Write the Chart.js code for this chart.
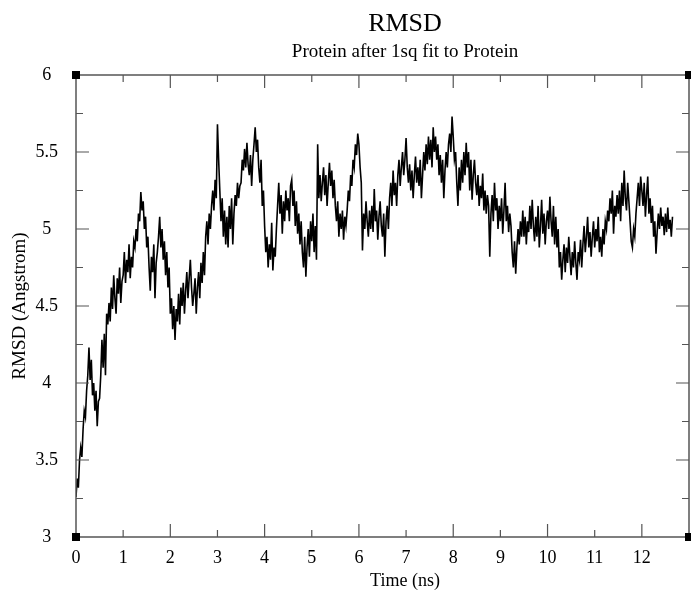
<!DOCTYPE html>
<html>
<head>
<meta charset="utf-8">
<script src="https://cdn.jsdelivr.net/npm/chart.js@4.4.1/dist/chart.umd.min.js"></script>
<style>
  html, body { margin: 0; padding: 0; background: #fff; }
</style>
</head>
<body>
<canvas id="rmsdChart" width="691" height="591"></canvas>
<script>
const titleText = "RMSD";
const subtitleText = "Protein after 1sq fit to Protein";
const xAxisTitle = "Time (ns)";
const yAxisTitle = "RMSD (Angstrom)";

// one value every 0.025 ns (10 values per row = 0.25 ns)
const frameStepNs = 0.025;
const rmsdValues = [
  3.26, 3.38, 3.32, 3.50, 3.58, 3.52, 3.70, 3.82, 3.78, 3.95,
  4.05, 4.23, 4.02, 4.15, 3.92, 4.00, 3.82, 3.95, 3.72, 3.88,
  3.90, 4.05, 4.28, 4.10, 4.32, 4.05, 4.45, 4.38, 4.52, 4.40,
  4.62, 4.48, 4.70, 4.55, 4.45, 4.68, 4.58, 4.75, 4.52, 4.66,
  4.70, 4.85, 4.65, 4.80, 4.72, 4.90, 4.68, 4.82, 4.75, 4.92,
  4.88, 5.00, 4.92, 5.10, 5.05, 5.24, 5.12, 5.18, 5.00, 5.08,
  4.88, 4.95, 4.75, 4.60, 4.82, 4.72, 4.90, 4.55, 4.78, 4.85,
  4.95, 5.08, 4.88, 5.00, 4.80, 4.92, 4.70, 4.85, 4.62, 4.75,
  4.45, 4.55, 4.35, 4.50, 4.28, 4.48, 4.40, 4.58, 4.38, 4.62,
  4.50, 4.65, 4.45, 4.60, 4.72, 4.55, 4.68, 4.80, 4.62, 4.50,
  4.58, 4.68, 4.45, 4.62, 4.72, 4.55, 4.78, 4.65, 4.85, 4.70,
  4.95, 5.05, 4.90, 5.10, 5.00, 5.15, 5.25, 5.12, 5.32, 5.20,
  5.68, 5.45, 5.25, 5.05, 5.20, 4.95, 5.12, 4.90, 5.08, 4.88,
  5.15, 5.00, 5.20, 4.90, 5.10, 5.22, 5.15, 5.30, 5.20, 5.28,
  5.30, 5.45, 5.38, 5.52, 5.40, 5.56, 5.42, 5.35, 5.48, 5.28,
  5.45, 5.55, 5.66, 5.50, 5.58, 5.40, 5.30, 5.45, 5.15, 5.25,
  5.02, 4.85, 4.95, 4.75, 4.90, 4.80, 5.04, 4.73, 4.88, 4.82,
  5.00, 5.15, 5.30, 5.10, 5.22, 4.97, 5.18, 5.05, 5.25, 5.12,
  5.20, 5.05, 5.28, 5.32, 5.15, 5.25, 5.02, 5.18, 4.97, 5.10,
  4.90, 5.05, 4.85, 4.75, 4.95, 4.69, 4.88, 5.00, 4.82, 5.05,
  4.92, 5.10, 4.85, 5.02, 4.80, 5.55, 5.20, 5.35, 5.18, 5.30,
  5.40, 5.22, 5.35, 5.15, 5.30, 5.43, 5.28, 5.38, 5.20, 5.32,
  5.15, 5.05, 5.18, 4.95, 5.10, 5.00, 5.12, 4.93, 5.08, 5.02,
  5.12, 5.25, 5.18, 5.35, 5.28, 5.45, 5.40, 5.55, 5.48, 5.62,
  5.55, 5.40, 5.30, 4.86, 5.10, 5.00, 5.18, 5.05, 4.95, 5.12,
  5.00, 5.15, 4.98, 5.26, 5.05, 5.12, 4.93, 5.08, 5.18, 5.02,
  4.95, 5.10, 4.82, 5.05, 5.15, 5.00, 5.20, 5.30, 5.15, 5.38,
  5.22, 5.30, 5.15, 5.35, 5.45, 5.28, 5.40, 5.50, 5.35, 5.45,
  5.59, 5.40, 5.30, 5.42, 5.25, 5.38, 5.20, 5.35, 5.47, 5.30,
  5.40, 5.28, 5.45, 5.20, 5.35, 5.50, 5.38, 5.55, 5.42, 5.60,
  5.45, 5.58, 5.40, 5.66, 5.50, 5.60, 5.45, 5.55, 5.35, 5.48,
  5.30, 5.45, 5.20, 5.38, 5.50, 5.40, 5.55, 5.62, 5.50, 5.73,
  5.60, 5.45, 5.50, 5.30, 5.15, 5.40, 5.25, 5.45, 5.30, 5.50,
  5.35, 5.56, 5.40, 5.50, 5.25, 5.45, 5.19, 5.35, 5.45, 5.30,
  5.22, 5.35, 5.15, 5.28, 5.20, 5.36, 5.12, 5.25, 5.10, 5.22,
  5.15, 4.82, 5.10, 5.22, 5.05, 5.30, 5.12, 5.20, 5.00, 5.15,
  5.05, 5.20, 4.97, 5.12, 5.30, 5.05, 5.15, 4.98, 5.10, 5.02,
  4.85, 4.75, 4.92, 4.71, 4.88, 5.00, 4.90, 5.05, 4.95, 5.12,
  4.95, 5.08, 4.90, 5.05, 4.98, 5.15, 5.00, 5.19, 5.02, 4.92,
  5.08, 4.95, 5.15, 4.88, 5.02, 5.19, 4.97, 5.10, 4.90, 5.05,
  5.12, 5.00, 5.21, 5.05, 4.95, 5.15, 4.90, 5.08, 4.88, 5.00,
  4.75, 4.85, 4.67, 4.80, 4.90, 4.72, 4.88, 4.78, 4.95, 4.82,
  4.70, 4.85, 4.75, 4.92, 4.78, 4.67, 4.85, 4.80, 4.93, 4.75,
  4.90, 5.02, 4.85, 4.95, 5.08, 4.88, 4.98, 4.82, 4.95, 5.05,
  4.88, 5.00, 4.92, 5.08, 4.85, 4.95, 4.82, 5.00, 4.90, 5.05,
  5.00, 5.12, 5.05, 5.20, 5.10, 5.25, 4.97, 5.15, 5.08, 5.22,
  5.10, 5.25, 5.05, 5.30, 5.15, 5.38, 5.20, 5.12, 5.30, 5.18,
  5.05, 4.92, 4.88, 5.00, 4.95, 5.10, 5.20, 5.30, 5.15, 5.34,
  5.25, 5.15, 5.30, 5.08, 5.22, 5.34, 5.10, 5.20, 5.04, 5.15,
  4.95, 5.05, 4.84, 4.98, 5.10, 5.00, 5.14, 5.02, 5.08, 4.96,
  5.10, 4.98, 5.14, 5.00, 5.06, 4.95, 5.08
];

const xTickValues = [0, 1, 2, 3, 4, 5, 6, 7, 8, 9, 10, 11, 12, 13];
const yTickValues = [3, 3.25, 3.5, 3.75, 4, 4.25, 4.5, 4.75, 5, 5.25, 5.5, 5.75, 6];

const serif = "'Liberation Serif', 'Times New Roman', serif";

const points = rmsdValues.map((v, i) => ({ x: i * frameStepNs, y: v }));

// xmgrace style frame: inward ticks on all four sides, corner squares, titles
const framePlugin = {
  id: "frame",
  afterDraw(chart) {
    const { ctx, chartArea: a, scales } = chart;
    const xs = scales.x, ys = scales.y;
    ctx.save();
    ctx.strokeStyle = "#555";
    ctx.lineWidth = 1.5;
    ctx.strokeRect(a.left, a.top, a.right - a.left, a.bottom - a.top);

    ctx.lineWidth = 1.2;
    ctx.beginPath();
    xTickValues.forEach((v) => {
      if (v === xTickValues[0] || v === xTickValues[xTickValues.length - 1]) return;
      const px = xs.getPixelForValue(v);
      const len = v % 2 === 0 ? 13 : 7;
      ctx.moveTo(px, a.bottom); ctx.lineTo(px, a.bottom - len);
      ctx.moveTo(px, a.top); ctx.lineTo(px, a.top + len);
    });
    yTickValues.forEach((v) => {
      if (v === yTickValues[0] || v === yTickValues[yTickValues.length - 1]) return;
      const py = ys.getPixelForValue(v);
      const len = (v * 2) % 1 === 0 ? 13 : 7;
      ctx.moveTo(a.left, py); ctx.lineTo(a.left + len, py);
      ctx.moveTo(a.right, py); ctx.lineTo(a.right - len, py);
    });
    ctx.stroke();

    // corner markers
    ctx.fillStyle = "#000";
    [[a.left, a.top], [a.right, a.top], [a.left, a.bottom], [a.right, a.bottom]].forEach(([cx, cy]) => {
      ctx.fillRect(cx - 4, cy - 4, 8, 8);
    });

    // titles, centred like the original (not on the plot box)
    const cx = 405;
    ctx.fillStyle = "#000";
    ctx.textAlign = "center";
    ctx.textBaseline = "alphabetic";
    ctx.font = "26px " + serif;
    ctx.fillText(titleText, cx, 31);
    ctx.font = "19px " + serif;
    ctx.fillText(subtitleText, cx, 57);
    ctx.font = "18px " + serif;
    ctx.fillText(xAxisTitle, cx, 586);
    ctx.restore();
  }
};

new Chart(document.getElementById("rmsdChart"), {
  type: "line",
  data: {
    datasets: [{
      data: points,
      borderColor: "#000",
      borderWidth: 1.6,
      pointRadius: 0,
      tension: 0,
      fill: false
    }]
  },
  options: {
    responsive: false,
    animation: false,
    devicePixelRatio: 1,
    layout: { padding: { top: 75, right: 1, left: 0, bottom: 0 } },
    plugins: {
      legend: { display: false },
      tooltip: { enabled: false }
    },
    scales: {
      x: {
        type: "linear",
        min: 0,
        max: 13,
        grid: { display: false },
        border: { display: false },
        afterFit(scale) { scale.height = 54; },
        afterBuildTicks(scale) { scale.ticks = xTickValues.map((v) => ({ value: v })); },
        ticks: {
          autoSkip: false,
          maxRotation: 0,
          padding: 2,
          color: "#000",
          font: { family: serif, size: 18 },
          callback: (v) => (v === 13 ? "" : String(v))
        }
      },
      y: {
        min: 3,
        max: 6,
        grid: { display: false },
        border: { display: false },
        afterFit(scale) { scale.width = 76; },
        afterBuildTicks(scale) {
          scale.ticks = yTickValues.filter((v) => (v * 2) % 1 === 0).map((v) => ({ value: v }));
        },
        title: {
          display: true,
          text: yAxisTitle,
          color: "#000",
          font: { family: serif, size: 19 },
          padding: { top: 9, bottom: 0 }
        },
        ticks: {
          crossAlign: "center",
          padding: 10,
          color: "#000",
          font: { family: serif, size: 18 },
          callback: (v) => String(v)
        }
      }
    }
  },
  plugins: [framePlugin]
});
</script>
</body>
</html>
